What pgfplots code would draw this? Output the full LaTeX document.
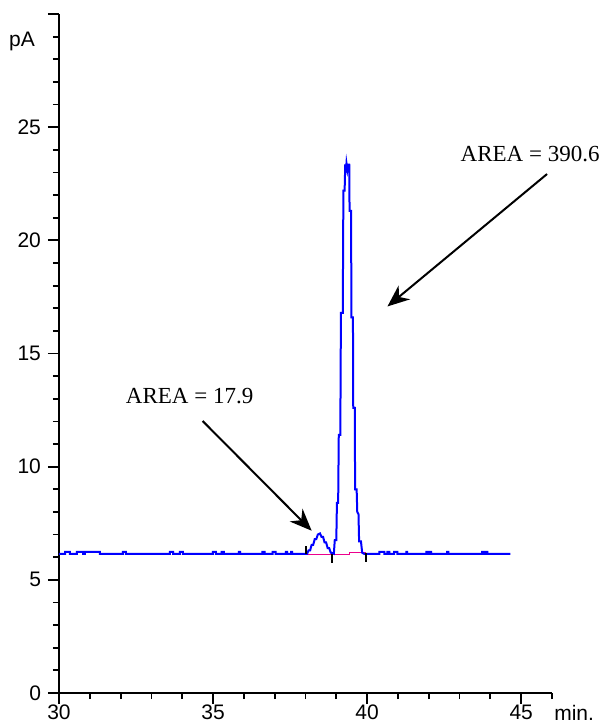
\documentclass[border=0pt]{standalone}
\usepackage{pgfplots}
\pgfplotsset{compat=1.18}
\usepackage{fontspec}
\setmainfont{Liberation Sans}
\newfontfamily\timesfont{Liberation Serif}
\usetikzlibrary{arrows.meta}

\begin{document}
\begin{tikzpicture}

%-----------------------------
% Chromatogram
%-----------------------------
\begin{axis}[
    at={(0,0)},
    anchor=south west,
    scale only axis,
    width=246.5pt,
    height=339.5pt,
    xmin=30, xmax=46,
    ymin=0, ymax=30,
    axis x line*=bottom,
    axis y line*=left,
    axis line style={line width=1pt},
    tick align=outside,
    xtick={30,35,40,45},
    minor xtick={31,32,33,34,36,37,38,39,41,42,43,44,46},
    ytick={0,5,10,15,20,25,30},
    yticklabels={0,5,10,15,20,25,{}},
    minor ytick={1,2,3,4,6,7,8,9,11,12,13,14,16,17,18,19,21,22,23,24,26,27,28,29},
    major tick length=5.5pt,
    minor tick length=3pt,
    tick style={black, line width=0.9pt},
    ticklabel style={font=\fontsize{10.5}{12}\selectfont},
    xticklabel style={yshift=3pt},
    /pgf/number format/assume math mode=true,
    clip=false
]

% integration baseline
\addplot[magenta, line width=0.8pt] coordinates {
    (38.05,6.12) (39.43,6.12) (39.43,6.2) (39.95,6.2)
};

% signal
\addplot[blue, line width=1pt] coordinates {
    (30,6.15)
    (30.2,6.15) (30.2,6.23) (30.35,6.23) (30.35,6.15)
    (30.58,6.15) (30.58,6.23) (30.78,6.23) (30.78,6.15)
    (30.84,6.15) (30.84,6.23) (31.33,6.23) (31.33,6.15)
    (32.07,6.15) (32.07,6.23) (32.17,6.23) (32.17,6.15)
    (33.60,6.15) (33.60,6.23) (33.70,6.23) (33.70,6.15)
    (33.92,6.15) (33.92,6.23) (34.02,6.23) (34.02,6.15)
    (34.99,6.15) (34.99,6.23) (35.09,6.23) (35.09,6.15)
    (35.28,6.15) (35.28,6.23) (35.35,6.23) (35.35,6.15)
    (35.84,6.15) (35.84,6.23) (35.88,6.23) (35.88,6.15)
    (36.60,6.15) (36.60,6.23) (36.67,6.23) (36.67,6.15)
    (36.93,6.15) (36.93,6.23) (37.03,6.23) (37.03,6.15)
    (37.36,6.15) (37.36,6.23) (37.40,6.23) (37.40,6.15)
    (37.53,6.15) (37.53,6.23) (37.57,6.23) (37.57,6.15)
    (38.05,6.15)
    (38.10,6.30) (38.15,6.30) (38.20,6.55) (38.25,6.55) (38.30,6.80)
    (38.35,6.80) (38.40,7.00) (38.47,7.05) (38.52,6.90) (38.57,6.90)
    (38.62,6.65) (38.67,6.65) (38.72,6.40) (38.77,6.40) (38.82,6.20)
    (38.92,6.15)
    (38.95,6.75) (39.00,6.75) (39.02,8.40) (39.06,8.40)
    (39.08,11.40) (39.13,11.40) (39.15,16.80) (39.21,16.80)
    (39.23,22.20) (39.27,22.20) (39.29,23.35) (39.31,23.00)
    (39.33,23.40) (39.36,23.10) (39.39,23.35) (39.42,23.35)
    (39.43,21.30) (39.48,21.30) (39.49,16.60) (39.54,16.60)
    (39.55,12.60) (39.60,12.60) (39.61,9.00) (39.66,9.00)
    (39.68,8.00) (39.72,7.90) (39.74,6.70) (39.80,6.70)
    (39.84,6.20) (39.90,6.15)
    (40.40,6.15) (40.40,6.23) (40.56,6.23) (40.56,6.15)
    (40.66,6.15) (40.66,6.23) (40.72,6.23) (40.72,6.15)
    (40.88,6.15) (40.88,6.23) (40.98,6.23) (40.98,6.15)
    (41.27,6.15) (41.27,6.23) (41.30,6.23) (41.30,6.15)
    (41.92,6.15) (41.92,6.23) (41.96,6.23) (41.96,6.15)
    (42.04,6.15) (42.04,6.23) (42.08,6.23) (42.08,6.15)
    (42.60,6.15) (42.60,6.23) (42.64,6.23) (42.64,6.15)
    (43.73,6.15) (43.73,6.23) (43.78,6.23) (43.78,6.15)
    (43.85,6.15) (43.85,6.23) (43.90,6.23) (43.90,6.15)
    (44.65,6.15)
};

% peak start / end markers
\addplot[black, line width=0.9pt, unbounded coords=jump] coordinates {
    (38.02,6.15) (38.02,6.50) (nan,nan)
    (38.87,5.75) (38.87,6.15) (nan,nan)
    (39.96,5.80) (39.96,6.20)
};

% annotations
\draw[line width=1pt, -{Stealth[length=11pt,width=9pt]}]
    (axis cs:45.84,22.93) -- (axis cs:40.66,17.08);
\draw[line width=1pt, -{Stealth[length=11pt,width=9pt]}]
    (axis cs:34.66,12.02) -- (axis cs:38.20,7.17);
\node[font=\timesfont\fontsize{11.5}{13}\selectfont] at (axis cs:45.29,23.81) {AREA = 390.6};
\node[font=\timesfont\fontsize{11.5}{13}\selectfont] at (axis cs:34.24,13.10) {AREA = 17.9};

\node[font=\fontsize{10.5}{12}\selectfont] at (axis cs:28.8,28.8) {pA};
\node[font=\fontsize{10.5}{12}\selectfont] at (axis cs:46.72,-0.9) {min.};

\end{axis}

\pgfresetboundingbox
\path[use as bounding box] (-29.5pt,-16pt) rectangle (274pt,346.5pt);

\end{tikzpicture}
\end{document}
